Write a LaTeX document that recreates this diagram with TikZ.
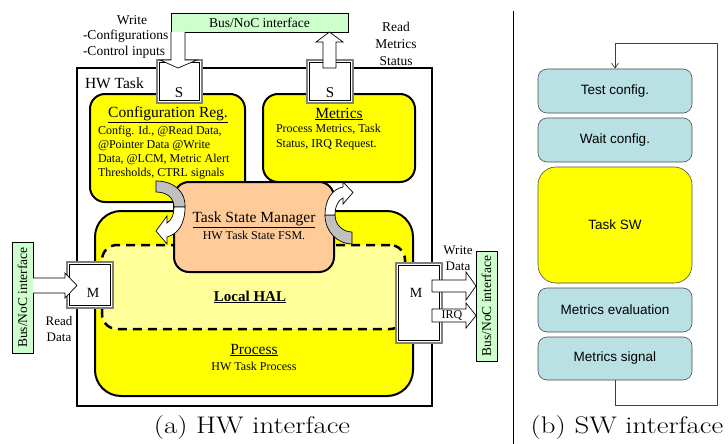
\documentclass[tikz,border=0pt]{standalone}
\usepackage{fontspec}
\newfontfamily\tnr{Liberation Serif}
\newfontfamily\arl{Liberation Sans}
\usetikzlibrary{arrows.meta}
\definecolor{busgreen}{HTML}{CCFFCC}
\definecolor{halyellow}{HTML}{FFFF99}
\definecolor{peach}{HTML}{FFCC99}
\definecolor{swblue}{HTML}{B9E0E3}
\definecolor{arrgray}{HTML}{C0C0C0}
\definecolor{hwyellow}{HTML}{FFFF00}
\definecolor{portgray}{HTML}{808080}
\tikzset{
  txt/.style={inner sep=0pt, outer sep=0pt},
  bus/.style={draw, fill=busgreen, line width=0.6pt, inner sep=0pt},
  sbox/.style={draw=portgray, line width=1.2pt, fill=white, inner sep=0pt},
  sboxin/.style={draw=black, line width=0.6pt, inner sep=0pt},
  ybox/.style={draw, fill=hwyellow, line width=2pt, inner sep=0pt},
  barrow/.style={draw, fill=white, line width=0.7pt, line join=miter},
  carrow/.style={draw, line width=0.7pt},
  swbox/.style={draw=black!70, fill=swblue, rounded corners=9pt, line width=0.6pt, inner sep=0pt, minimum width=154pt},
  swtxt/.style={font=\arl\fontsize{13.5}{16}\selectfont},
}
\begin{document}
\begin{tikzpicture}[x=1pt,y=-1pt]
\useasboundingbox (0,0) rectangle (728,444);

% ---------- HW interface ----------
\node[draw, line width=1.4pt, minimum width=355pt, minimum height=338pt, inner sep=0pt] (hw) at (254.5,237) {};
\node[txt, anchor=west, font=\tnr\fontsize{15.5}{18}\selectfont] (hwlbl) at (85,83) {HW Task};

% Configuration register and metrics
\node[ybox, rounded corners=15pt, minimum width=155pt, minimum height=108pt] (cfg) at (167.5,148) {};
\node[ybox, rounded corners=15pt, minimum width=152pt, minimum height=88pt] (met) at (339,138) {};

% Process and local HAL
\node[ybox, rounded corners=26pt, minimum width=318pt, minimum height=185pt] (proc) at (254,303.5) {};
\node[draw, fill=halyellow, line width=2.5pt, dash pattern=on 9pt off 6pt, rounded corners=15pt, minimum width=303pt, minimum height=84pt, inner sep=0pt] (hal) at (253.5,287) {};

% Task state manager
\node[draw, fill=peach, line width=2pt, rounded corners=15pt, minimum width=160pt, minimum height=90pt, inner sep=0pt] (tsm) at (254,227) {};

% curved arrow (left): config -> process
\path[carrow, fill=arrgray] (156,181) .. controls (175,181) and (186,193) .. (185,207)
  -- (174,207) .. controls (174,198) and (167,192) .. (156,192) -- cycle;
\path[carrow, fill=white] (185,207) .. controls (185,224) and (178,234) .. (167,237)
  -- (167,244) -- (156,231) -- (167,216) -- (167,223)
  .. controls (172,220) and (174,214) .. (174,207) -- cycle;
% curved arrow (right): process -> metrics
\path[carrow, fill=arrgray] (325,215) .. controls (325,232) and (338,244) .. (352,244)
  -- (352,232) .. controls (343,232) and (335,225) .. (335,215) -- cycle;
\path[carrow, fill=white] (325,215) .. controls (325,200) and (332,189) .. (343,187)
  -- (343,182) -- (353,192.5) -- (343,204) -- (343,198)
  .. controls (338,200) and (335,207) .. (335,215) -- cycle;

% slave ports
\node[sbox, minimum width=45pt, minimum height=43pt] (s1) at (179.5,81.5) {};
\node[sboxin, minimum width=40pt, minimum height=38pt] (s1i) at (179.5,81.5) {};
\node[sbox, minimum width=46pt, minimum height=43pt] (s2) at (330,81.5) {};
\node[sboxin, minimum width=41pt, minimum height=38pt] (s2i) at (330,81.5) {};
\node[txt, font=\tnr\fontsize{15}{18}\selectfont] (s1t) at (179,93) {S};
\node[txt, font=\tnr\fontsize{15}{18}\selectfont] (s2t) at (330,93) {S};

% master ports
\node[sbox, minimum width=46pt, minimum height=46pt] (m1) at (90,285) {};
\node[sboxin, minimum width=41pt, minimum height=41pt] (m1i) at (90,285) {};
\node[sbox, minimum width=46pt, minimum height=80pt] (m2) at (419,303) {};
\node[sboxin, minimum width=41pt, minimum height=75pt] (m2i) at (419,303) {};
\node[txt, font=\tnr\fontsize{14}{17}\selectfont] (m1t) at (93,293) {M};
\node[txt, font=\tnr\fontsize{14}{17}\selectfont] (m2t) at (416,293) {M};

% bus interfaces
\node[bus, minimum width=177pt, minimum height=19pt, font=\tnr\fontsize{13.5}{16}\selectfont] (bustop) at (259.5,22.5) {Bus/NoC interface};
\node[bus, minimum width=111pt, minimum height=21pt, rotate=90, font=\tnr\fontsize{13.5}{16}\selectfont] (busl) at (22.5,297.5) {Bus/NoC interface};
\node[bus, minimum width=110pt, minimum height=21pt, rotate=90, font=\tnr\fontsize{13.5}{16}\selectfont] (busr) at (486.5,306) {Bus/NoC interface};

% block arrows
\path[barrow] (171,32) -- (171,60) -- (160,60) -- (178,68) -- (197,60) -- (185,60) -- (185,32);
\path[barrow] (323,68) -- (323,42) -- (316,42) -- (329.5,32) -- (343,42) -- (336,42) -- (336,68) -- cycle;
\path[barrow] (33,278) -- (65,278) -- (65,273) -- (77,285.5) -- (65,298) -- (65,293) -- (33,293);
\path[barrow] (432,280) -- (466,280) -- (466,272) -- (476,286) -- (466,300) -- (466,292) -- (432,292) -- cycle;
\path[barrow] (432,309) -- (466,309) -- (466,303) -- (476,315.5) -- (466,328) -- (466,322) -- (432,322) -- cycle;

% texts
\node[txt, font=\tnr\fontsize{13.5}{16}\selectfont] (wr1) at (132,20) {Write};
\node[txt, anchor=west, font=\tnr\fontsize{13.5}{16}\selectfont] (wr2) at (83,36) {-Configurations};
\node[txt, anchor=west, font=\tnr\fontsize{13.5}{16}\selectfont] (wr3) at (83,52) {-Control inputs};
\node[txt, align=center, font=\tnr\fontsize{13.5}{17}\selectfont] (rms) at (396,44) {Read\\Metrics\\Status};

\node[txt, font=\tnr\fontsize{15.5}{18}\selectfont] (cfgt) at (168,115) {\underline{Configuration Reg.}};
\node[txt, anchor=west, align=left, font=\tnr\fontsize{12}{14}\selectfont] (cfgb) at (98,153)
  {Config. Id., @Read Data,\\@Pointer Data @Write\\Data, @LCM, Metric Alert\\Thresholds, CTRL signals};
\node[txt, font=\tnr\fontsize{15.5}{18}\selectfont] (mett) at (339,114) {\underline{Metrics}};
\node[txt, anchor=west, align=left, font=\tnr\fontsize{12}{15}\selectfont] (metb) at (276,137.5)
  {Process Metrics, Task\\Status, IRQ Request.};
\node[txt, font=\tnr\fontsize{15.5}{18}\selectfont] (tsmt) at (254,220) {\underline{Task State Manager}};
\node[txt, font=\tnr\fontsize{12}{14}\selectfont] (tsmb) at (254,235.5) {HW Task State FSM.};
\node[txt, font=\tnr\bfseries\fontsize{15}{18}\selectfont] (halt) at (250,297) {\underline{Local HAL}};
\node[txt, font=\tnr\fontsize{15.5}{18}\selectfont] (proct) at (254,350) {\underline{Process}};
\node[txt, font=\tnr\fontsize{12}{14}\selectfont] (procb) at (254,366) {HW Task Process};
\node[txt, align=center, font=\tnr\fontsize{13}{16}\selectfont] (rd) at (59,329) {Read\\Data};
\node[txt, align=center, font=\tnr\fontsize{13}{16}\selectfont] (wd) at (458,258) {Write\\Data};
\node[txt, font=\tnr\fontsize{12}{14}\selectfont] (irq) at (452,315) {IRQ};

\node[txt] (capa) at (252,428) {\scalebox{1.2}[1]{\fontsize{24}{28}\selectfont (a) HW interface}};

% ---------- divider ----------
\draw[line width=0.8pt] (513,11) -- (513,444);

% ---------- SW interface ----------
\node[swbox, minimum height=44pt, swtxt] (test) at (615,91) {Test config.};
\node[swbox, minimum height=44pt, swtxt] (wait) at (615,140) {Wait config.};
\node[swbox, fill=hwyellow, rounded corners=18pt, minimum height=116pt, swtxt] (tsw) at (615,225) {Task SW};
\node[swbox, minimum height=44pt, swtxt] (meval) at (615,310) {Metrics evaluation};
\node[swbox, minimum height=43pt, swtxt] (msig) at (615,358.5) {Metrics signal};
\coordinate (lpa) at (717,405);
\coordinate (lpb) at (717,43);
\draw[black!75, line width=0.7pt, -{Straight Barb[length=5pt,width=7pt]}] (msig.south) |- (lpa) -- (lpb) -| (test.north);

\node[txt] (capb) at (627,428) {\scalebox{1.2}[1]{\fontsize{24}{28}\selectfont (b) SW interface}};
\end{tikzpicture}
\end{document}
